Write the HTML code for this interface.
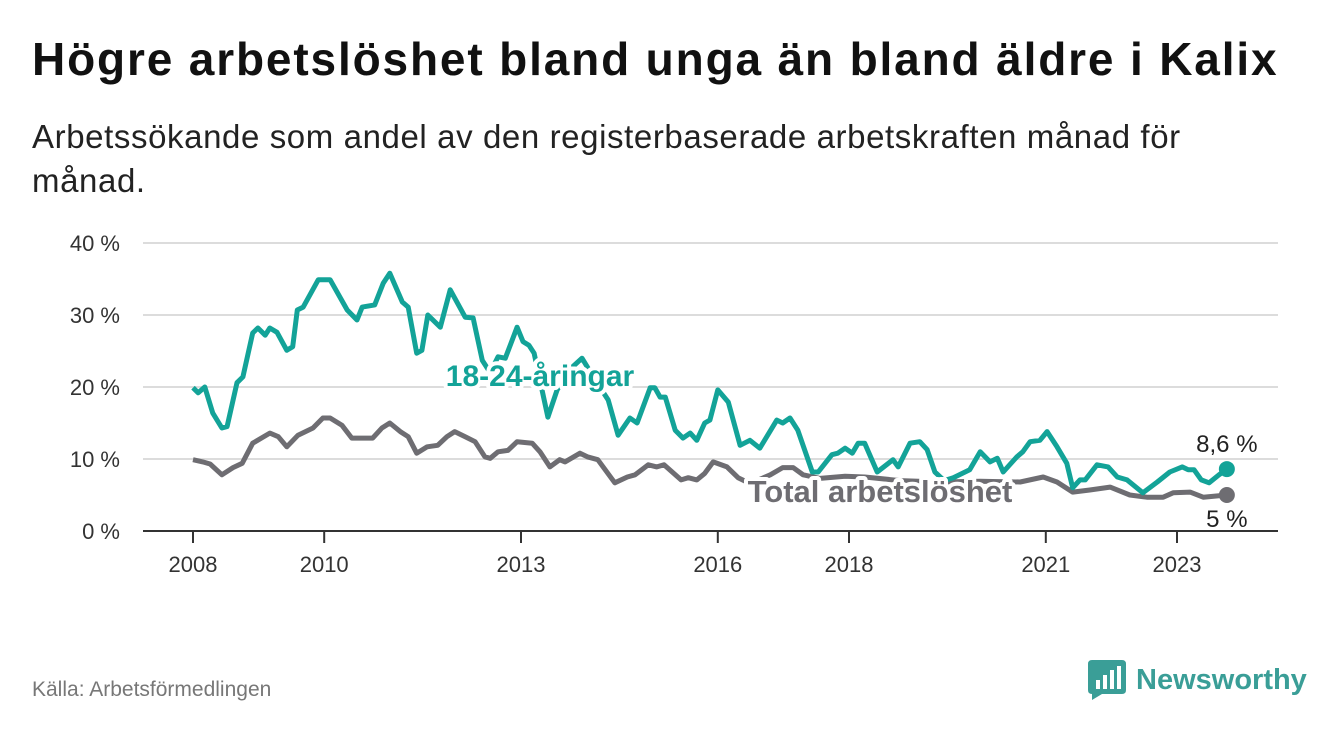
<!DOCTYPE html>
<html><head><meta charset="utf-8">
<style>
body{margin:0;background:#fff;width:1340px;height:734px;overflow:hidden;font-family:"Liberation Sans",sans-serif;}
h1{position:absolute;left:32px;top:32px;margin:0;font-size:46px;font-weight:bold;color:#111;letter-spacing:1.85px;white-space:nowrap}
.sub{position:absolute;left:32px;top:115px;margin:0;font-size:33px;color:#222;line-height:44px;width:1220px;letter-spacing:0.6px}
.src{position:absolute;left:32px;top:678px;font-size:21px;color:#777}
.logo{position:absolute;left:1088px;top:660px;display:flex;align-items:center}
.logo span{font-size:29px;font-weight:bold;color:#3a9e97;margin-left:10px}
</style></head><body>
<h1>Högre arbetslöshet bland unga än bland äldre i Kalix</h1>
<p class="sub">Arbetssökande som andel av den registerbaserade arbetskraften månad för månad.</p>
<svg id="chart" width="1340" height="734" style="position:absolute;left:0;top:0"></svg>
<div class="src">Källa: Arbetsförmedlingen</div>
<div class="logo">
<svg width="38" height="40"><path d="M0 4 Q0 0 4 0 H34 Q38 0 38 4 V30 Q38 34 34 34 H14 L4 40 V34 H4 Q0 34 0 30Z" fill="#3a9e97"/><rect x="8" y="20" width="4" height="9" fill="#fff"/><rect x="15" y="15" width="4" height="14" fill="#fff"/><rect x="22" y="10" width="4" height="19" fill="#fff"/><rect x="29" y="6" width="4" height="23" fill="#fff"/></svg>
<span>Newsworthy</span></div>
<script>
const yTicks=[0,10,20,30,40];
const xTicks=[2008,2010,2013,2016,2018,2021,2023];
const youthDates=[2008.0,2008.08,2008.18,2008.30,2008.44,2008.52,2008.67,2008.76,2008.91,2008.99,2009.10,2009.17,2009.28,2009.43,2009.52,2009.59,2009.68,2009.91,2010.09,2010.35,2010.50,2010.58,2010.77,2010.90,2011.00,2011.19,2011.28,2011.41,2011.49,2011.58,2011.77,2011.92,2012.15,2012.27,2012.41,2012.53,2012.65,2012.76,2012.94,2013.03,2013.12,2013.20,2013.41,2013.55,2013.75,2013.93,2014.13,2014.33,2014.48,2014.66,2014.77,2014.97,2015.04,2015.12,2015.20,2015.35,2015.47,2015.58,2015.68,2015.80,2015.88,2016.00,2016.16,2016.34,2016.49,2016.64,2016.90,2016.99,2017.10,2017.22,2017.44,2017.53,2017.74,2017.83,2017.94,2018.05,2018.14,2018.24,2018.43,2018.67,2018.75,2018.93,2019.08,2019.19,2019.31,2019.45,2019.59,2019.84,2020.00,2020.15,2020.26,2020.35,2020.56,2020.65,2020.76,2020.91,2021.02,2021.17,2021.32,2021.41,2021.52,2021.60,2021.78,2021.95,2022.09,2022.24,2022.48,2022.70,2022.89,2023.08,2023.17,2023.26,2023.37,2023.49,2023.64,2023.76];
const youthValues=[19.9,19.2,20,16.4,14.3,14.5,20.6,21.4,27.5,28.2,27.2,28.2,27.6,25.1,25.6,30.7,31.1,34.9,34.9,30.7,29.3,31.1,31.4,34.4,35.8,31.8,31.1,24.7,25.1,30,28.3,33.5,29.7,29.6,23.7,22,24.2,24,28.3,26.3,25.8,24.7,15.8,19.6,22.5,24,21,18.2,13.3,15.7,15,19.9,19.9,18.6,18.6,14,12.9,13.6,12.6,15,15.4,19.6,17.9,11.9,12.6,11.5,15.4,15,15.7,14,8.2,8.2,10.6,10.8,11.5,10.8,12.2,12.2,8.2,9.9,8.9,12.2,12.4,11.3,8.2,7.0,7.4,8.5,11,9.6,10.1,8.2,10.3,11,12.4,12.6,13.8,11.7,9.4,6,7.1,7.1,9.2,8.9,7.5,7.1,5.3,6.8,8.2,8.9,8.5,8.5,7.1,6.7,7.8,8.6];
const totalDates=[2008.0,2008.15,2008.26,2008.44,2008.61,2008.75,2008.91,2009.17,2009.30,2009.43,2009.60,2009.83,2009.98,2010.09,2010.27,2010.42,2010.74,2010.88,2011.00,2011.16,2011.28,2011.41,2011.57,2011.73,2011.87,2011.99,2012.15,2012.30,2012.45,2012.53,2012.65,2012.80,2012.94,2013.17,2013.29,2013.44,2013.59,2013.67,2013.90,2014.01,2014.17,2014.43,2014.62,2014.74,2014.94,2015.07,2015.18,2015.44,2015.55,2015.68,2015.80,2015.93,2016.14,2016.31,2016.49,2016.80,2016.99,2017.15,2017.30,2017.56,2017.94,2018.24,2018.78,2019.39,2020.00,2020.61,2020.96,2021.17,2021.41,2021.67,2021.98,2022.28,2022.54,2022.79,2022.94,2023.20,2023.40,2023.76];
const totalValues=[9.9,9.6,9.3,7.8,8.8,9.4,12.2,13.6,13.1,11.7,13.3,14.3,15.7,15.7,14.7,12.9,12.9,14.3,15,13.8,13.1,10.8,11.7,11.9,13.1,13.8,13.1,12.4,10.3,10.1,11,11.2,12.4,12.2,11,8.9,9.9,9.6,10.8,10.3,9.9,6.7,7.5,7.8,9.2,8.9,9.2,7.1,7.4,7.1,8,9.6,8.9,7.4,6.6,7.8,8.8,8.8,7.8,7.3,7.6,7.5,7.0,6.8,6.9,6.8,7.5,6.8,5.4,5.7,6.1,5,4.7,4.7,5.3,5.4,4.7,5];
const youthEndLabel="8,6 %", totalEndLabel="5 %";

const NS="http://www.w3.org/2000/svg";
const svg=document.getElementById('chart');
const X=t=>193+(t-2008)*65.6;
const Y=v=>531-v*7.2;
function mk(tag,attrs,parent){const e=document.createElementNS(NS,tag);for(const k in attrs)e.setAttribute(k,attrs[k]);(parent||svg).appendChild(e);return e;}
yTicks.forEach(v=>{
  if(v>0){const g=mk('line',{x1:143,x2:1278,y1:Y(v),y2:Y(v),stroke:'#dcdcdc','stroke-width':2});
  
  }
  const t=mk('text',{x:120,y:Y(v)+8,'text-anchor':'end','font-size':22,fill:'#333'});
  t.textContent=v+' %';
  
  
});
const ax=mk('line',{x1:143,x2:1278,y1:531,y2:531,stroke:'#333','stroke-width':2});


xTicks.forEach(y=>{
  const l=mk('line',{x1:X(y),x2:X(y),y1:531,y2:543,stroke:'#333','stroke-width':2});
  
  
  const t=mk('text',{x:X(y),y:572,'text-anchor':'middle','font-size':22,fill:'#333'});
  t.textContent=y;
  
  
});
function path(d,v){return d.map((t,i)=>(i?'L':'M')+X(t).toFixed(1)+' '+Y(v[i]).toFixed(1)).join(' ');}
const pt=mk('path',{d:path(totalDates,totalValues),fill:'none',stroke:'#6e6d72','stroke-width':5,'stroke-linejoin':'round'});


const py=mk('path',{d:path(youthDates,youthValues),fill:'none',stroke:'#13a398','stroke-width':5,'stroke-linejoin':'round'});


const ly=youthDates.length-1, lt=totalDates.length-1;
const dy=mk('circle',{cx:X(youthDates[ly]),cy:Y(youthValues[ly]),r:8,fill:'#13a398'});


const dt=mk('circle',{cx:X(totalDates[lt]),cy:Y(totalValues[lt]),r:8,fill:'#6e6d72'});


function lab(txt,x,y,col,size,bold,name){
  const t=mk('text',{x:x,y:y,'text-anchor':'middle','font-size':size,'font-weight':bold?'bold':'normal',fill:col,stroke:'#fff','stroke-width':bold?8:6,'paint-order':'stroke','stroke-linejoin':'round'});
  t.textContent=txt;
  
  
}
lab('18-24-åringar',540,386,'#13a398',30,true,'youth-series-label');
lab('Total arbetslöshet',880,502,'#6e6d72',31,true,'total-series-label');
lab(youthEndLabel,X(youthDates[ly]),Y(youthValues[ly])-17,'#222',24,false,'youth-end-label');
lab(totalEndLabel,X(totalDates[lt]),Y(totalValues[lt])+32,'#222',24,false,'total-end-label');
</script>
</body></html>
